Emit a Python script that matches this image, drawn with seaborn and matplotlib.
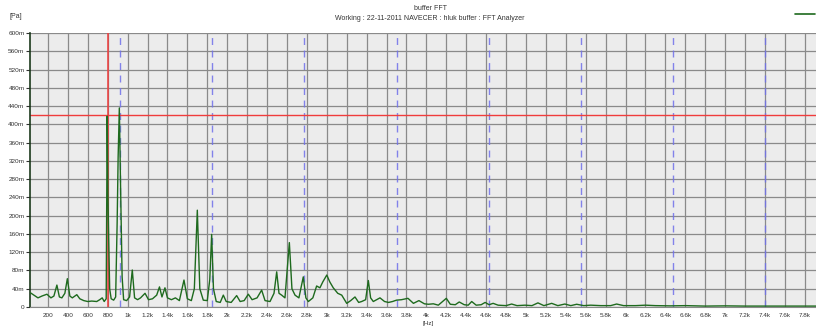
import numpy as np
import pandas as pd
import matplotlib
matplotlib.use("Agg")
import matplotlib.pyplot as plt
import seaborn as sns

# ---- data ----
freq_hz = [25, 60, 100, 140, 190, 230, 260, 290, 315, 340, 370, 395, 420, 445, 470, 490,
           520, 560, 600, 640, 690, 720, 745, 765, 785, 795, 802, 810, 820, 835, 860, 880,
           895, 905, 917, 930, 945, 960, 990, 1020, 1047, 1070, 1100, 1130, 1175, 1210,
           1250, 1292, 1320, 1345, 1375, 1400, 1440, 1480, 1520, 1566, 1600, 1640, 1670,
           1700, 1725, 1760, 1800, 1825, 1844, 1862, 1890, 1930, 1961, 1990, 2040, 2095,
           2130, 2170, 2212, 2250, 2300, 2346, 2380, 2430, 2470, 2497, 2520, 2547, 2580,
           2624, 2650, 2681, 2720, 2764, 2790, 2815, 2860, 2898, 2931, 2960, 3000, 3030,
           3065, 3110, 3150, 3200, 3240, 3283, 3320, 3350, 3390, 3417, 3440, 3467, 3534,
           3580, 3620, 3660, 3700, 3750, 3815, 3870, 3925, 3980, 4020, 4070, 4120, 4200,
           4240, 4290, 4330, 4380, 4420, 4455, 4500, 4550, 4590, 4630, 4670, 4720, 4800,
           4856, 4910, 4990, 5060, 5120, 5180, 5258, 5320, 5390, 5450, 5509, 5580, 5650,
           5750, 5850, 5910, 5980, 6100, 6200, 6300, 6450, 6600, 6800, 7000, 7200, 7400,
           7600, 7800, 7920]
amp_mpa = [31, 26, 20, 24, 28, 20, 24, 48, 22, 20, 30, 62, 24, 20, 24, 27,
           18, 14, 12, 13, 12, 16, 20, 12, 18, 418, 250, 150, 40, 18, 15, 22,
           184, 329, 436, 256, 66, 16, 14, 22, 81, 20, 16, 20, 30, 16,
           18, 26, 44, 22, 42, 20, 16, 20, 14, 59, 18, 14, 40,
           212, 40, 15, 14, 60, 159, 40, 12, 10, 26, 12, 10, 25,
           12, 14, 28, 16, 20, 37, 14, 12, 30, 77, 30, 26, 20,
           141, 40, 26, 20, 66, 20, 12, 20, 46, 42, 55, 70, 55,
           42, 30, 26, 8, 14, 22, 10, 12, 16, 58, 20, 12, 20,
           12, 10, 12, 15, 16, 19, 8, 14, 7, 6, 7, 4, 19,
           6, 5, 11, 5, 4, 12, 4, 5, 10, 5, 8, 4, 3,
           6.5, 3, 4, 3, 9, 3, 8, 3, 6.5, 3, 6, 3, 4,
           3, 3, 6.5, 3, 3, 4, 3, 2.5, 3, 2, 2.5, 2, 2,
           2, 2, 2]

x_ticks = [200 * i for i in range(1, 40)]
x_tick_labels = [str(v) if v < 1000 else (f"{v/1000:g}k") for v in x_ticks]
y_ticks = [40 * i for i in range(0, 16)]
y_tick_labels = ["0"] + [f"{v}m" for v in y_ticks[1:]]

cursor_freq = 800
cursor_level = 420
harmonic_freqs = [925, 1850, 2775, 3700, 4625, 5550, 6475, 7400]

title_line1 = "buffer FFT"
title_line2 = "Working : 22-11-2011 NAVECER : hluk buffer : FFT Analyzer"

# ---- plot ----
sns.set_style("whitegrid", {"axes.facecolor": "#ececec", "grid.color": "#8a8a8a"})
plt.rcParams["font.family"] = ["Liberation Sans Narrow", "Liberation Sans", "DejaVu Sans"]

W, H = 816, 327
fig = plt.figure(figsize=(W / 100, H / 100), dpi=100)
ax = fig.add_axes([30 / W, 20 / H, 786 / W, 274 / H])

df = pd.DataFrame({"f": freq_hz, "a": amp_mpa})

ax.set_xticks(x_ticks)
ax.set_yticks(y_ticks)
ax.grid(True, color="#8a8a8a", linewidth=0.9)
ax.set_axisbelow(True)

for hf in harmonic_freqs:
    ax.axvline(hf, color="#7070ea", linewidth=1.0, linestyle=(0, (5, 4)), alpha=0.85, zorder=1.5)
ax.axvline(cursor_freq, color="#f03c3c", linewidth=1.1, zorder=1.6)
ax.axhline(cursor_level, color="#f03c3c", linewidth=1.0, zorder=1.6)

sns.lineplot(data=df, x="f", y="a", ax=ax, color="#1e6a1e", linewidth=1.0, zorder=3,
             estimator=None, sort=False)

ax.set_xlim(20, 7912)
ax.set_ylim(0, 600)
ax.set_xticklabels(x_tick_labels, fontsize=4.6, color="#333333")
ax.set_yticklabels(y_tick_labels, fontsize=4.6, color="#333333")
ax.tick_params(axis="y", length=3, width=0.8, pad=1, color="#333333", left=True)
ax.tick_params(axis="x", length=0, pad=4)
ax.set_xlabel("")
ax.set_ylabel("")

for side in ["top", "right"]:
    ax.spines[side].set_visible(False)
ax.spines["left"].set_color("#1c3a1c")
ax.spines["left"].set_linewidth(1.2)
ax.spines["bottom"].set_color("#888888")
ax.spines["bottom"].set_linewidth(0.8)

fig.text(10 / W, 1 - 16 / H, "[Pa]", fontsize=5, color="#333333", va="center")
fig.text(430 / W, 1 - 8 / H, title_line1, fontsize=5, color="#333333", ha="center", va="center")
fig.text(430 / W, 1 - 18 / H, title_line2, fontsize=5, color="#333333", ha="center", va="center")
fig.text(428 / W, 1 - 323 / H, "[Hz]", fontsize=4.5, color="#333333", ha="center", va="center")
fig.add_artist(plt.Line2D([795 / W, 815 / W], [1 - 14 / H, 1 - 14 / H], color="#1e6a1e", linewidth=1.2))

fig.savefig("out.png", dpi=100)
